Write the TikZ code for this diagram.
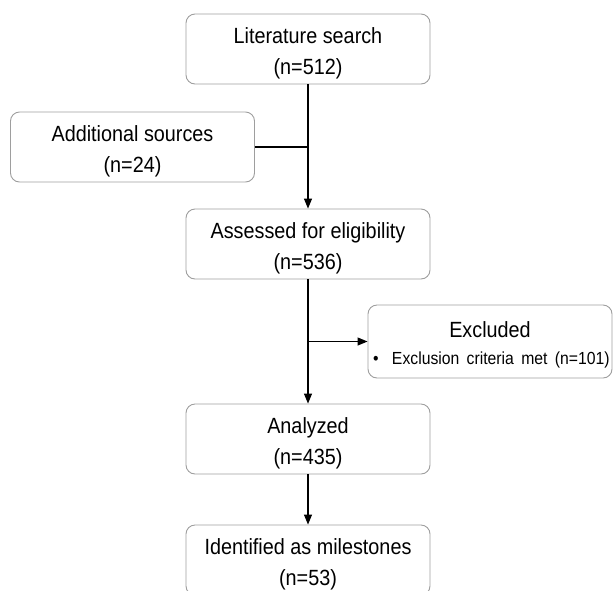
\documentclass[tikz,border=0pt]{standalone}
\usepackage{fontspec}
\setmainfont{Liberation Sans}[FakeStretch=0.9]
\usetikzlibrary{arrows.meta}
\begin{document}
\begin{tikzpicture}[x=1pt, y=-1pt,
  stepbox/.style={draw=black!38, line width=0.9pt, rounded corners=9pt,
    minimum width=244pt, minimum height=70pt, inner sep=0pt,
    text height=55pt, text depth=5pt,
    align=center, font=\fontsize{22}{31}\selectfont},
  link/.style={line width=1.1pt},
  flow/.style={link, -{Triangle[length=10pt, width=8pt]}}]
  \useasboundingbox (0,0) rectangle (613,590);
  \node[stepbox] (search) at (308,49) {Literature search\\(n=512)};
  \node[stepbox] (more) at (132.5,147) {Additional sources\\(n=24)};
  \node[stepbox] (assess) at (308,244) {Assessed for eligibility\\(n=536)};
  \node[stepbox, minimum height=73pt, text width=234pt, inner xsep=4pt,
    text height=16pt, text depth=25pt, align=left] (excl) at (490,341.5)
    {{\centering Excluded\par}
     {\fontsize{17.5}{27}\selectfont\mbox{\makebox[19pt][l]{\textbullet}Exclusion criteria met (n=101)}\par}};
  \node[stepbox] (analyzed) at (308,439) {Analyzed\\(n=435)};
  \node[stepbox] (ident) at (308,560) {Identified as milestones\\(n=53)};
  % connectors
  \draw[flow] (search) -- (assess);
  \draw[link] (more.east) -- (more.east -| search.south);
  \draw[flow] (assess) -- (analyzed);
  \draw[flow] (assess.south |- excl.west) -- (excl.west);
  \draw[flow] (analyzed) -- (ident);
\end{tikzpicture}
\end{document}
